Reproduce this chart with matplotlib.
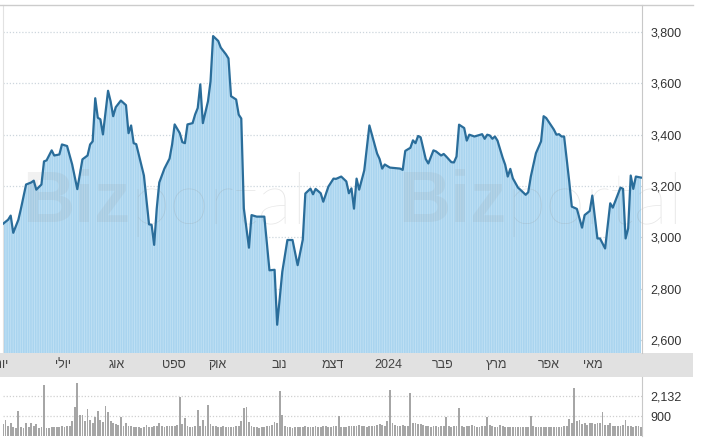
import matplotlib.pyplot as plt
from matplotlib.patches import Rectangle
from matplotlib.lines import Line2D
from matplotlib.transforms import blended_transform_factory

plt.rcParams['font.family'] = ['Liberation Sans', 'DejaVu Sans']
plt.rcParams['hatch.linewidth'] = 0.6

# ---- data (trading-day index, Jun 2023 -> Jun 2024) ----
price_days = [0, 2, 3, 4, 6, 7, 9, 11, 12, 13, 15, 16, 17, 19, 20, 22, 23, 25, 27, 29,
              31, 33, 34, 35, 36, 37, 38, 39, 41, 42, 43, 44, 46, 48, 49, 50, 51, 52, 55, 57,
              58, 59, 60, 61, 63, 65, 66, 67, 69, 70, 71, 72, 74, 75, 76, 77, 78, 80, 81, 82,
              84, 85, 87, 88, 89, 91, 92, 93, 94, 96, 97, 99, 102, 104, 106, 107, 109, 111, 113, 115,
              117, 118, 120, 121, 122, 124, 125, 127, 129, 130, 132, 134, 135, 136, 137, 138, 139, 141, 143, 146,
              147, 148, 149, 151, 155, 156, 157, 159, 160, 161, 162, 163, 165, 166, 168, 169, 171, 172, 173, 175,
              176, 177, 178, 180, 181, 182, 184, 187, 188, 189, 190, 191, 192, 193, 195, 196, 197, 198, 199, 201,
              202, 204, 205, 206, 208, 210, 211, 212, 215, 216, 217, 218, 219, 221, 222, 224, 226, 227, 229, 230,
              232, 233, 235, 237, 238, 241, 242, 243, 244, 245, 246, 247, 249]
price_vals = [3053, 3069, 3085, 3018, 3069, 3112, 3206, 3214, 3221, 3186, 3206, 3296, 3300, 3339, 3319, 3323, 3362, 3356, 3284, 3188,
              3304, 3319, 3362, 3374, 3542, 3466, 3460, 3401, 3571, 3530, 3472, 3507, 3533, 3515, 3406, 3436, 3367, 3363, 3241, 3051,
              3049, 2971, 3112, 3214, 3268, 3307, 3362, 3440, 3406, 3371, 3367, 3440, 3445, 3479, 3504, 3596, 3445, 3530, 3608, 3784,
              3765, 3739, 3713, 3697, 3550, 3537, 3478, 3463, 3113, 2960, 3087, 3081, 3081, 2872, 2874, 2660, 2866, 2990, 2990, 2892,
              2991, 3171, 3190, 3168, 3189, 3172, 3139, 3198, 3229, 3228, 3237, 3218, 3172, 3191, 3112, 3229, 3186, 3261, 3436, 3327,
              3305, 3268, 3284, 3272, 3268, 3263, 3337, 3349, 3378, 3367, 3395, 3390, 3305, 3288, 3339, 3335, 3319, 3325, 3315, 3293,
              3292, 3315, 3439, 3426, 3377, 3400, 3393, 3402, 3384, 3400, 3397, 3384, 3393, 3377, 3311, 3283, 3237, 3267, 3230, 3194,
              3185, 3166, 3176, 3237, 3328, 3374, 3472, 3465, 3420, 3400, 3402, 3393, 3393, 3218, 3120, 3111, 3038, 3087, 3103, 3163,
              2996, 2996, 2957, 3133, 3116, 3194, 3189, 2996, 3035, 3241, 3189, 3237, 3233]

volumes = [420, 680, 350, 490, 250, 200, 1230, 260, 230, 500,
           240, 500, 300, 470, 220, 260, 2750, 230, 210, 250,
           240, 260, 280, 300, 280, 350, 320, 600, 1430, 2890,
           980, 980, 600, 1310, 680, 520, 880, 1230, 680, 560,
           1510, 1170, 600, 520, 450, 380, 840, 350, 490, 330,
           300, 280, 260, 250, 230, 260, 400, 280, 250, 330,
           300, 480, 320, 290, 300, 310, 330, 350, 380, 2060,
           420, 780, 300, 280, 260, 300, 1270, 340, 680, 300,
           1570, 420, 350, 300, 280, 260, 300, 280, 260, 250,
           260, 300, 330, 600, 1370, 1470, 550, 350, 280, 250,
           230, 240, 250, 300, 320, 360, 550, 520, 2420, 980,
           300, 260, 240, 230, 250, 260, 280, 290, 300, 280,
           260, 250, 300, 280, 260, 330, 300, 280, 260, 300,
           330, 920, 280, 260, 250, 300, 320, 300, 350, 380,
           300, 330, 280, 320, 300, 350, 400, 420, 380, 350,
           600, 2460, 480, 400, 350, 330, 360, 320, 300, 2260,
           500, 480, 450, 420, 380, 350, 300, 280, 330, 300,
           280, 300, 350, 840, 300, 280, 320, 350, 1370, 300,
           280, 300, 330, 360, 300, 280, 260, 300, 330, 840,
           380, 300, 280, 260, 400, 300, 280, 260, 250, 240,
           260, 280, 250, 240, 260, 280, 920, 300, 260, 250,
           240, 250, 260, 280, 260, 250, 240, 260, 280, 300,
           340, 740, 500, 2560, 600, 680, 450, 500, 400, 480,
           520, 450, 500, 480, 1170, 400, 380, 500, 350, 330,
           300, 320, 400, 680, 350, 300, 280, 320, 300, 280]

month_labels = ['יוני', 'יולי', 'אוג', 'ספט', 'אוק', 'נוב', 'דצמ', '2024', 'פבר', 'מרץ', 'אפר', 'מאי']
month_days = [-0.8, 23.6, 44.4, 66.7, 83.7, 107.7, 128.6, 150.3, 171.7, 192.7, 213.1, 230.3]

price_ticks = [2600, 2800, 3000, 3200, 3400, 3600, 3800]
volume_ticks = [900, 2132]

# ---- layout in pixels ----
W, H = 701, 438


def fx(px):
    return px / W


def fy(py):
    return 1 - py / H


def visual(s):
    # matplotlib has no bidi support: reverse Hebrew words for display
    return s if s.isascii() else s[::-1]


fig = plt.figure(figsize=(W / 100, H / 100), dpi=100)
ax = fig.add_axes([fx(3), fy(353), fx(642) - fx(3), fy(5) - fy(353)])
axv = fig.add_axes([fx(3), fy(436), fx(642) - fx(3), fy(377) - fy(436)])

# price area
ax.fill_between(price_days, price_vals, 2400, facecolor='#a9d4ef', edgecolor='#c3e2f5',
                hatch='|' * 7, linewidth=0, zorder=1)
ax.plot(price_days, price_vals, color='#2a6d9a', lw=1.6, zorder=4, solid_joinstyle='round')
ax.set_xlim(0, 249.4)
ax.set_ylim(2550, 3905)
ax.set_xticks([])
ax.yaxis.tick_right()
ax.set_yticks(price_ticks)
ax.set_yticklabels([f'{v:,}' for v in price_ticks])
ax.tick_params(axis='y', length=0, pad=6, labelsize=9, labelcolor='#333333')
ax.grid(axis='y', color='#cdd6dd', linestyle=(0, (1, 1.5)), lw=0.9, zorder=0)
ax.set_axisbelow(True)
for s in ['top', 'bottom']:
    ax.spines[s].set_visible(False)
ax.spines['right'].set_color('#c8c8c8')
ax.spines['left'].set_color('#e2e2e2')

# watermark
for left in (22, 398):
    t = ax.text(fx(left), fy(222), 'Biz', transform=fig.transFigure, fontsize=52,
                fontweight='bold', color='#909090', alpha=0.12, va='baseline',
                zorder=2, clip_on=False)
    ax.annotate('portal', xy=(1, 0), xycoords=t, va='bottom', ha='left', fontsize=52,
                family=['Lato', 'Liberation Sans'], fontweight='light',
                color='#909090', alpha=0.22, zorder=2, annotation_clip=False)

# volume
vol_floor = -270
axv.bar(range(len(volumes)), [v - vol_floor for v in volumes], bottom=vol_floor,
        width=0.7, color='#a6a6a6', linewidth=0, zorder=2)
axv.set_xlim(0, 249.4)
axv.set_ylim(vol_floor, 3230)
axv.set_xticks([])
axv.yaxis.tick_right()
axv.set_yticks(volume_ticks)
axv.set_yticklabels([f'{v:,}' for v in volume_ticks])
axv.tick_params(axis='y', length=0, pad=6, labelsize=9, labelcolor='#333333')
axv.grid(axis='y', color='#d0d0d0', linestyle=(0, (1, 1.5)), lw=0.9, zorder=0)
for s in ['top', 'bottom', 'left']:
    axv.spines[s].set_visible(False)
axv.spines['right'].set_color('#c8c8c8')

# month band
fig.add_artist(Rectangle((0, fy(377)), fx(693), fy(353) - fy(377),
                         transform=fig.transFigure, facecolor='#e1e1e1',
                         edgecolor='none', zorder=-1))
trans = blended_transform_factory(axv.transData, fig.transFigure)
for d, lab in zip(month_days, month_labels):
    axv.text(d, fy(365), visual(lab), transform=trans, ha='center', va='center',
             fontsize=9, color='#444444', clip_on=False)

# top frame line
fig.add_artist(Line2D([0, fx(693)], [fy(5), fy(5)], transform=fig.transFigure,
                      color='#cccccc', lw=1))

fig.savefig('out.png', dpi=100)
